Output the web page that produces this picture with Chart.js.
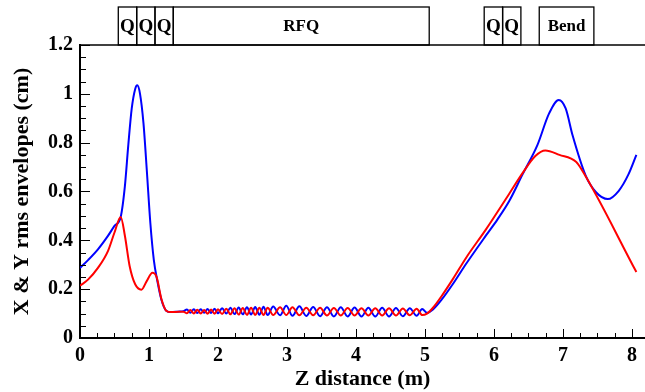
<!DOCTYPE html>
<html>
<head>
<meta charset="utf-8">
<script src="https://cdn.jsdelivr.net/npm/chart.js@4/dist/chart.umd.min.js"></script>
<style>
  html, body { margin: 0; padding: 0; background: #fff; }
  #wrap { width: 645px; height: 392px; position: relative; }
</style>
</head>
<body>
<div id="wrap"><canvas id="envChart"></canvas></div>
<script>
// beam envelope data, z in m, envelopes in cm
var zX = [0, 0.12, 0.26, 0.4, 0.5, 0.59, 0.65, 0.7, 0.75, 0.8, 0.83, 0.87, 0.92, 0.97, 1.02, 1.07, 1.12, 1.18, 1.25, 1.32, 1.42, 1.5,
  1.55, 1.6, 1.65, 1.7, 1.75, 1.8, 1.85, 1.9, 1.95, 2.0, 2.06, 2.12, 2.18, 2.24, 2.3, 2.36, 2.42, 2.48, 2.54, 2.6, 2.66, 2.72, 2.8,
  2.9, 2.99, 3.08, 3.18, 3.28, 3.38, 3.48, 3.58, 3.68, 3.78, 3.88, 3.98, 4.08, 4.18, 4.28, 4.38, 4.48, 4.58, 4.68, 4.78, 4.88, 4.96, 5.03,
  5.12, 5.25, 5.4, 5.6, 5.885, 6.05, 6.22, 6.415, 6.63, 6.8, 6.94, 7.04, 7.14, 7.33, 7.48, 7.65, 7.81, 7.95, 8.065];
var envX = [0.287, 0.32, 0.363, 0.416, 0.459, 0.496, 0.62, 0.79, 0.94, 1.02, 1.035, 1.0, 0.88, 0.68, 0.47, 0.32, 0.235, 0.157, 0.112, 0.106, 0.108, 0.11,
  0.117, 0.103, 0.118, 0.102, 0.118, 0.103, 0.119, 0.102, 0.12, 0.101, 0.122, 0.1, 0.124, 0.098, 0.125, 0.097, 0.126, 0.096, 0.127, 0.095, 0.128, 0.094, 0.129,
  0.093, 0.132, 0.091, 0.13, 0.09, 0.127, 0.089, 0.126, 0.088, 0.126, 0.088, 0.125, 0.088, 0.124, 0.088, 0.124, 0.088, 0.123, 0.089, 0.122, 0.091, 0.119, 0.103,
  0.118, 0.16, 0.219, 0.305, 0.42, 0.485, 0.56, 0.67, 0.79, 0.92, 0.975, 0.94, 0.83, 0.665, 0.597, 0.569, 0.603, 0.67, 0.75];

var zY = [0, 0.116, 0.26, 0.405, 0.5, 0.59, 0.65, 0.72, 0.8, 0.89, 0.965, 1.05, 1.11, 1.18, 1.25, 1.32, 1.42, 1.5,
  1.55, 1.6, 1.65, 1.7, 1.75, 1.8, 1.85, 1.9, 1.95, 2.0, 2.06, 2.12, 2.18, 2.24, 2.3, 2.36, 2.42, 2.48, 2.54, 2.6, 2.66, 2.72, 2.8,
  2.9, 2.99, 3.08, 3.18, 3.28, 3.38, 3.48, 3.58, 3.68, 3.78, 3.88, 3.98, 4.08, 4.18, 4.28, 4.38, 4.48, 4.58, 4.68, 4.78, 4.88, 4.96, 5.03,
  5.12, 5.25, 5.4, 5.6, 5.885, 6.22, 6.415, 6.6, 6.745, 6.95, 7.19, 7.26, 8.065];
var envY = [0.214, 0.239, 0.287, 0.356, 0.432, 0.496, 0.42, 0.294, 0.22, 0.198, 0.232, 0.267, 0.25, 0.16, 0.112, 0.106, 0.107, 0.108,
  0.101, 0.115, 0.1, 0.116, 0.1, 0.115, 0.099, 0.117, 0.099, 0.118, 0.098, 0.12, 0.097, 0.122, 0.096, 0.123, 0.095, 0.124, 0.095, 0.124, 0.094, 0.124, 0.094,
  0.126, 0.094, 0.126, 0.093, 0.124, 0.093, 0.124, 0.092, 0.123, 0.092, 0.123, 0.092, 0.122, 0.092, 0.122, 0.092, 0.122, 0.092, 0.121, 0.093, 0.12, 0.094, 0.1,
  0.125, 0.175, 0.239, 0.33, 0.445, 0.59, 0.675, 0.745, 0.768, 0.75, 0.722, 0.695, 0.27];

var xTicks = [0, 1, 2, 3, 4, 5, 6, 7, 8];
var yTicks = [0, 0.2, 0.4, 0.6, 0.8, 1, 1.2];

// beamline elements (z start / end in m)
var elemStart = [0.555, 0.822, 1.087, 1.352, 5.859, 6.126, 6.657];
var elemEnd   = [0.822, 1.087, 1.352, 5.062, 6.126, 6.391, 7.449];
var elemLabel = ['Q', 'Q', 'Q', 'RFQ', 'Q', 'Q', 'Bend'];

var serif = "'Liberation Serif', 'Times New Roman', serif";

var toPoints = function(xs, ys){
  return xs.map(function(x, i){ return {x: x, y: ys[i]}; });
};

var framePlugin = {
  id: 'frame',
  afterDraw: function(chart){
    var ctx = chart.ctx;
    var area = chart.chartArea;
    var xs = chart.scales.x, ys = chart.scales.y;
    ctx.save();
    ctx.strokeStyle = '#000';

    // top frame line
    ctx.lineWidth = 1.5;
    ctx.beginPath();
    ctx.moveTo(area.left, area.top);
    ctx.lineTo(area.right, area.top);
    ctx.stroke();

    // inward ticks
    ctx.lineWidth = 1;
    var v, p, major;
    for (var i = 0; i <= 32; i++) {
      v = i * 0.25;
      major = (i % 4 === 0);
      p = Math.round(xs.getPixelForValue(v)) + 0.5;
      ctx.beginPath();
      ctx.moveTo(p, area.bottom);
      ctx.lineTo(p, area.bottom - (major ? 9 : 5));
      ctx.stroke();
    }
    for (var j = 1; j <= 24; j++) {
      v = j * 0.05;
      major = (j % 4 === 0);
      p = Math.round(ys.getPixelForValue(v)) + 0.5;
      ctx.beginPath();
      ctx.moveTo(area.left, p);
      ctx.lineTo(area.left + (major ? 10 : 6), p);
      ctx.stroke();
    }

    // beamline element boxes above the plot
    ctx.lineWidth = 1.3;
    ctx.fillStyle = '#000';
    ctx.textAlign = 'center';
    ctx.textBaseline = 'middle';
    var boxTop = 7;
    for (var k = 0; k < elemLabel.length; k++) {
      var x1 = xs.getPixelForValue(elemStart[k]);
      var x2 = xs.getPixelForValue(elemEnd[k]);
      ctx.strokeRect(x1, boxTop, x2 - x1, area.top - boxTop);
      ctx.font = 'bold ' + (elemLabel[k].length === 1 ? 19 : 17) + 'px ' + serif;
      ctx.fillText(elemLabel[k], (x1 + x2) / 2, (boxTop + area.top) / 2 + 1);
    }
    ctx.restore();
  }
};

var context = document.getElementById('envChart').getContext('2d');
var envChart = new Chart(context, {
  type: 'line',
  data: {
    datasets: [{
      label: 'Y',
      data: toPoints(zY, envY),
      borderColor: '#ff0000',
      borderWidth: 2,
      pointRadius: 0,
      fill: false,
      cubicInterpolationMode: 'monotone',
      order: 0
    }, {
      label: 'X',
      data: toPoints(zX, envX),
      borderColor: '#0000ff',
      borderWidth: 2,
      pointRadius: 0,
      fill: false,
      cubicInterpolationMode: 'monotone',
      order: 1
    }]
  },
  options: {
    responsive: true,
    maintainAspectRatio: false,
    animation: false,
    layout: { padding: { top: 45, right: 0, left: 0, bottom: 0 } },
    plugins: {
      legend: { display: false },
      tooltip: { enabled: false }
    },
    scales: {
      x: {
        type: 'linear',
        min: 0,
        max: 8.19,
        afterBuildTicks: function(scale){
          scale.ticks = xTicks.map(function(v){ return {value: v}; });
        },
        afterFit: function(scale){ scale.height = 54; },
        grid: { display: false, drawTicks: false },
        border: { display: true, color: '#000', width: 2 },
        ticks: {
          color: '#000',
          padding: 6,
          maxRotation: 0,
          callback: function(v){ return String(v); },
          font: { family: serif, size: 20, weight: 'bold' }
        },
        title: {
          display: true,
          text: 'Z distance (m)',
          color: '#000',
          padding: { top: 0, bottom: -1 },
          font: { family: serif, size: 22, weight: 'bold' }
        }
      },
      y: {
        type: 'linear',
        min: 0,
        max: 1.2,
        afterBuildTicks: function(scale){
          scale.ticks = yTicks.map(function(v){ return {value: v}; });
        },
        afterFit: function(scale){ scale.width = 80; },
        grid: { display: false, drawTicks: false },
        border: { display: true, color: '#000', width: 2 },
        ticks: {
          color: '#000',
          padding: 7,
          callback: function(v){ return String(v); },
          font: { family: serif, size: 20, weight: 'bold' }
        },
        title: {
          display: true,
          text: 'X & Y rms envelopes (cm)',
          color: '#000',
          padding: { top: 9, bottom: 0 },
          font: { family: serif, size: 22, weight: 'bold' }
        }
      }
    }
  },
  plugins: [framePlugin]
});
</script>
</body>
</html>
